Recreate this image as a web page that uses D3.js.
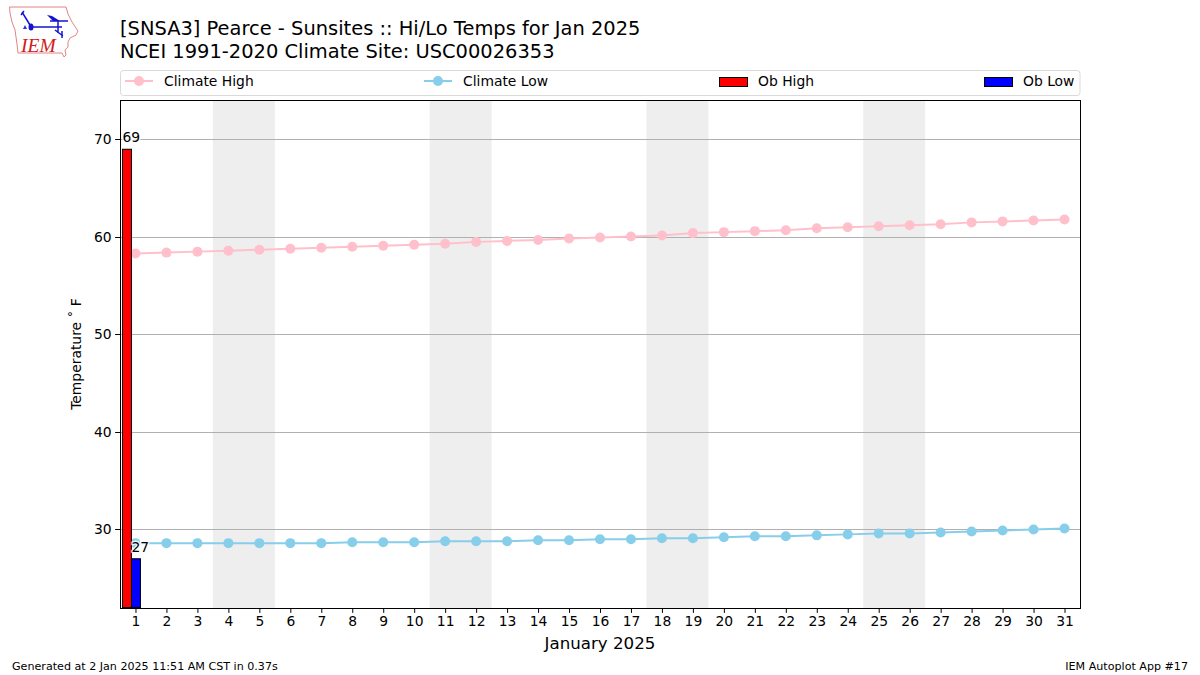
<!DOCTYPE html>
<html>
<head>
<meta charset="utf-8">
<script src="https://cdn.jsdelivr.net/npm/d3@7"></script>
<style>
  html, body { margin: 0; padding: 0; background: #fff; }
  svg { display: block; }
  text { font-family: "DejaVu Sans", sans-serif; fill: #000; }
</style>
</head>
<body>
<div id="chart"></div>
<script>
const days = d3.range(1, 32);
const climateHigh = [58.3, 58.4, 58.5, 58.6, 58.7, 58.8, 58.9, 59.0, 59.1, 59.2, 59.3, 59.5, 59.6, 59.7, 59.85, 59.95, 60.05, 60.15, 60.4, 60.5, 60.6, 60.7, 60.9, 61.0, 61.1, 61.2, 61.3, 61.5, 61.6, 61.7, 61.8];
const climateLow = [28.6, 28.6, 28.6, 28.6, 28.6, 28.6, 28.6, 28.7, 28.7, 28.7, 28.8, 28.8, 28.8, 28.9, 28.9, 29.0, 29.0, 29.1, 29.1, 29.2, 29.3, 29.3, 29.4, 29.5, 29.6, 29.6, 29.7, 29.8, 29.9, 30.0, 30.1];
const obDays = [1];
const obHigh = [69];
const obLow = [27];
const weekends = [4, 11, 18, 25];
const yTicks = [30, 40, 50, 60, 70];
const titleLines = ['[SNSA3] Pearce - Sunsites :: Hi/Lo Temps for Jan 2025', 'NCEI 1991-2020 Climate Site: USC00026353'];

const width = 1200, height = 675;
const margin = { top: 100, right: 120, bottom: 67, left: 120 };

const svg = d3.select('#chart').append('svg')
    .attr('width', width)
    .attr('height', height);

const xScale = d3.scaleLinear().domain([0.5, 31.5]).range([margin.left, width - margin.right]);
const yScale = d3.scaleLinear().domain([22, 74]).range([height - margin.bottom - 0.5, margin.top + 0.5]);
const snap = v => Math.floor(v) + 0.5;
const barWidth = xScale(0.79) - xScale(0.5);

// weekend bands
svg.append('g').selectAll('rect')
    .data(weekends)
    .enter().append('rect')
    .attr('x', d => xScale(d - 0.5))
    .attr('y', margin.top)
    .attr('width', d => xScale(d + 1.5) - xScale(d - 0.5))
    .attr('height', height - margin.bottom - margin.top)
    .style('fill', '#eeeeee');

// grid
svg.append('g').selectAll('line')
    .data(yTicks)
    .enter().append('line')
    .attr('x1', margin.left)
    .attr('x2', width - margin.right)
    .attr('y1', d => snap(yScale(d)))
    .attr('y2', d => snap(yScale(d)))
    .style('stroke', '#b0b0b0')
    .style('stroke-width', 1);

const line = d3.line().x((d, i) => xScale(days[i])).y(d => yScale(d));

function addSeries(values, color) {
    svg.append('path')
        .attr('d', line(values))
        .style('fill', 'none')
        .style('stroke', color)
        .style('stroke-width', 2);
    svg.append('g').selectAll('circle')
        .data(values)
        .enter().append('circle')
        .attr('cx', (d, i) => xScale(days[i]))
        .attr('cy', d => yScale(d))
        .attr('r', 5)
        .style('fill', color);
}

// observed bars, labels start at the bar's left edge
function addBars(values, offset, color) {
    svg.append('g').selectAll('rect')
        .data(values)
        .enter().append('rect')
        .attr('x', (d, i) => xScale(obDays[i] + offset))
        .attr('y', d => yScale(d))
        .attr('width', barWidth)
        .attr('height', d => yScale(22) - yScale(d))
        .style('fill', color)
        .style('stroke', '#000')
        .style('stroke-width', 1);
}
function addBarLabels(values, offset) {
    svg.append('g').selectAll('text')
        .data(values)
        .enter().append('text')
        .attr('x', (d, i) => xScale(obDays[i] + offset))
        .attr('y', d => yScale(d) - 7)
        .style('font-size', '13.89px')
        .style('paint-order', 'stroke')
        .style('stroke', '#fff')
        .style('stroke-opacity', 0.8)
        .style('stroke-width', 3)
        .style('stroke-linejoin', 'round')
        .text(d => d);
}
addSeries(climateHigh, 'pink');
addSeries(climateLow, 'skyblue');
addBars(obHigh, -0.42, 'red');
addBars(obLow, -0.13, 'blue');
addBarLabels(obHigh, -0.42);
addBarLabels(obLow, -0.13);

// frame
svg.append('rect')
    .attr('x', margin.left + 0.5)
    .attr('y', margin.top + 0.5)
    .attr('width', width - margin.right - margin.left)
    .attr('height', height - margin.bottom - margin.top)
    .style('fill', 'none')
    .style('stroke', '#000')
    .style('stroke-width', 1);

// axes
const xAxis = svg.append('g')
    .attr('transform', 'translate(0,' + (height - margin.bottom) + ')')
    .call(d3.axisBottom(xScale).tickValues(days).tickFormat(d3.format('d')).tickSize(4.9).tickPadding(3.5));
const yAxis = svg.append('g')
    .attr('transform', 'translate(' + margin.left + ',0)')
    .call(d3.axisLeft(yScale).tickValues(yTicks).tickSize(4.9).tickPadding(3.5));
xAxis.select('.domain').remove();
yAxis.select('.domain').remove();
yAxis.selectAll('.tick').attr('transform', d => 'translate(0,' + snap(yScale(d)) + ')');
svg.selectAll('.tick text').style('font-size', '13.89px').style('font-family', '"DejaVu Sans", sans-serif').style('fill', '#000');
svg.selectAll('.tick line').style('stroke', '#000');

svg.append('text')
    .attr('x', 600)
    .attr('y', 649)
    .attr('text-anchor', 'middle')
    .style('font-size', '16.67px')
    .text('January 2025');

svg.append('text')
    .attr('transform', 'translate(81,354) rotate(-90)')
    .attr('text-anchor', 'middle')
    .style('font-size', '13.89px')
    .text('Temperature ˚ F');

// title
svg.append('g').selectAll('text')
    .data(titleLines)
    .enter().append('text')
    .attr('x', 120)
    .attr('y', (d, i) => 35 + i * 22.5)
    .style('font-size', '19.44px')
    .text(d => d);

// legend
svg.append('rect')
    .attr('x', 120.5)
    .attr('y', 70.5)
    .attr('width', 959.5)
    .attr('height', 25)
    .attr('rx', 3)
    .style('fill', '#fff')
    .style('stroke', '#d9d9d9')
    .style('stroke-width', 1);

const legendLines = [
    { label: 'Climate High', color: 'pink', x: 125 },
    { label: 'Climate Low', color: 'skyblue', x: 424 }
];
const legendBars = [
    { label: 'Ob High', color: 'red', x: 719 },
    { label: 'Ob Low', color: 'blue', x: 984 }
];
legendLines.forEach(d => {
    svg.append('line')
        .attr('x1', d.x).attr('x2', d.x + 28)
        .attr('y1', 81).attr('y2', 81)
        .style('stroke', d.color)
        .style('stroke-width', 2);
    svg.append('circle')
        .attr('cx', d.x + 14).attr('cy', 81).attr('r', 5)
        .style('fill', d.color);
    svg.append('text')
        .attr('x', d.x + 39).attr('y', 86)
        .style('font-size', '13.89px')
        .text(d.label);
});
legendBars.forEach(d => {
    svg.append('rect')
        .attr('x', d.x + 0.5).attr('y', 77.5)
        .attr('width', 28).attr('height', 9)
        .style('fill', d.color)
        .style('stroke', '#000')
        .style('stroke-width', 1);
    svg.append('text')
        .attr('x', d.x + 39).attr('y', 86)
        .style('font-size', '13.89px')
        .text(d.label);
});

// footer
svg.append('text')
    .attr('x', 12).attr('y', 670)
    .style('font-size', '11.11px')
    .text('Generated at 2 Jan 2025 11:51 AM CST in 0.37s');
svg.append('text')
    .attr('x', 1188).attr('y', 670)
    .attr('text-anchor', 'end')
    .style('font-size', '11.11px')
    .text('IEM Autoplot App #17');

// IEM logo
const logo = svg.append('g');
logo.append('path')
    .attr('d', 'M9.5,7 L66,7 L68,14 L72,22 L78,31 L76,35 L70,38 L68,42 L68,47 L65,50 L66,55 L64,57 L62,53 L18,53 L17,44 L15,30 L12,22 L10,13 Z')
    .style('fill', 'none')
    .style('stroke', '#e08585')
    .style('stroke-width', 1);
logo.append('path')
    .attr('d', 'M31,27 L62,27 M58,21 L58,33 M22,12 L30,25 M21,15 L24,11 M55,30 L63,36 M62,31 L62,38 M50,21 L68,21')
    .style('fill', 'none')
    .style('stroke', '#1515d0')
    .style('stroke-width', 1.5);
logo.append('path')
    .attr('d', 'M47,15 L52,16 L60,21 L53,21 Z')
    .style('fill', '#1515d0');
logo.append('ellipse')
    .attr('cx', 31).attr('cy', 27).attr('rx', 2.5).attr('ry', 3.5)
    .style('fill', '#1515d0');
logo.append('path')
    .attr('d', 'M25,25 L27,29 L23,29 Z')
    .style('fill', '#3030d0');
logo.append('text')
    .attr('x', 21).attr('y', 52)
    .style('font-family', '"Liberation Serif", serif')
    .style('font-style', 'italic')
    .style('font-size', '19.5px')
    .style('fill', '#d02020')
    .text('IEM');
</script>
</body>
</html>
